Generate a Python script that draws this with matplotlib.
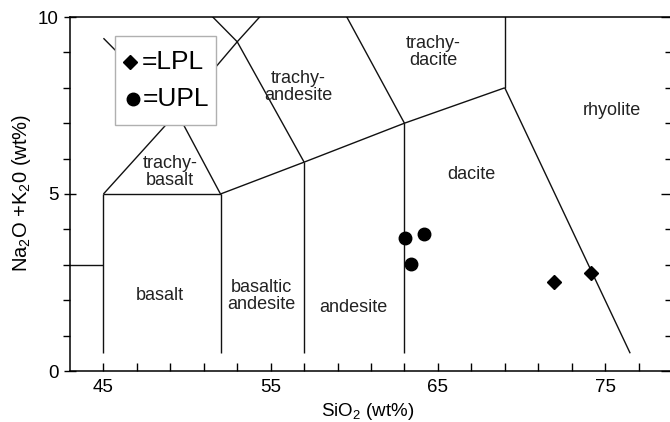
import matplotlib
matplotlib.use("Agg")
import matplotlib.pyplot as plt
import numpy as np
from matplotlib.patches import Rectangle

plt.rcParams['font.family'] = ['Liberation Sans', 'DejaVu Sans']
plt.rcParams['mathtext.fontset'] = 'custom'
plt.rcParams['mathtext.rm'] = 'Liberation Sans'
plt.rcParams['mathtext.it'] = 'Liberation Sans:italic'
plt.rcParams['mathtext.bf'] = 'Liberation Sans:bold'

# --- TAS field boundaries (SiO2, Na2O+K2O) ---
boundaries = [
    [(41, 3), (45, 3)],
    [(45, 0.5), (45, 5)],
    [(45, 5), (52, 5)],
    [(52, 0.5), (52, 5)],
    [(57, 0.5), (57, 5.9)],
    [(63, 0.5), (63, 7)],
    [(52, 5), (57, 5.9), (63, 7), (69, 8)],
    [(69, 8), (76.5, 0.5)],
    [(69, 8), (69, 12)],
    [(45, 5), (49.4, 7.3), (52, 5)],
    [(45, 9.4), (49.4, 7.3), (53, 9.3), (57.6, 11.7)],
    [(57, 5.9), (53, 9.3), (48.4, 11.5)],
    [(63, 7), (57.6, 11.7)],
]

# --- field names and label positions ---
field_names = ["trachy-\nbasalt", "trachy-\nandesite", "trachy-\ndacite", "rhyolite",
               "dacite", "basalt", "basaltic\nandesite", "andesite"]
field_x = [48.98, 56.64, 64.71, 75.42, 67.01, 48.35, 54.42, 59.96]
field_y = [5.62, 8.02, 9.01, 7.37, 5.56, 2.12, 2.12, 1.78]

# --- samples ---
lpl_sio2 = [71.95, 74.14]
lpl_alk = [2.52, 2.77]
upl_sio2 = [63.04, 64.19, 63.39]
upl_alk = [3.77, 3.88, 3.01]

legend_labels = ['=LPL', '=UPL']

xticks_major = [45, 55, 65, 75]

fig = plt.figure(figsize=(6.7, 4.22), dpi=100)
ax = fig.add_axes([70 / 670, 51 / 422, 602 / 670, 354 / 422])
ax.set_xlim(43, 79)
ax.set_ylim(0, 10)

lc = '#111111'
for seg in boundaries:
    xs, ys = zip(*seg)
    ax.plot(xs, ys, color=lc, lw=1.0, solid_capstyle='butt')

for name, x, y in zip(field_names, field_x, field_y):
    ax.text(x, y, name, ha='center', va='center', fontsize=13, color='#222222',
            linespacing=1.05, multialignment='center')

ax.plot(lpl_sio2, lpl_alk, 'D', color='black', ms=7.3, ls='none', zorder=5)
ax.plot(upl_sio2, upl_alk, 'o', color='black', ms=9, ls='none', zorder=5)


# --- legend box drawn in axes coordinates ---
def afx(px):
    return (px - 70) / 602


def afy(py):
    return (371 - py) / 354


box = Rectangle((afx(115), afy(125)), afx(216) - afx(115), afy(36) - afy(125),
                transform=ax.transAxes, facecolor='white', edgecolor='#b0b0b0',
                lw=1.0, zorder=10)
ax.add_patch(box)
ax.plot([afx(130)], [afy(62)], 'D', color='black', ms=7.3, transform=ax.transAxes, zorder=11)
ax.plot([afx(133)], [afy(99)], 'o', color='black', ms=9, transform=ax.transAxes, zorder=11)
ax.text(afx(142), afy(62), legend_labels[0], transform=ax.transAxes, fontsize=19,
        ha='left', va='center', zorder=11)
ax.text(afx(143), afy(99), legend_labels[1], transform=ax.transAxes, fontsize=19,
        ha='left', va='center', zorder=11)

for s in ax.spines.values():
    s.set_linewidth(1.1)
    s.set_color('black')

ax.set_xticks(xticks_major)
ax.set_xticks([t for t in np.arange(45, 79, 2) if t not in xticks_major], minor=True)
ax.set_yticks([0, 5, 10])
ax.set_yticks([1, 2, 3, 4, 6, 7, 8, 9], minor=True)
ax.tick_params(axis='x', which='both', direction='in', length=5.5, width=1, pad=6,
               labelsize=13.5, top=False)
ax.tick_params(axis='y', which='major', direction='inout', length=8.5, width=1, pad=4,
               labelsize=13.5)
ax.tick_params(axis='y', which='minor', direction='out', length=5, width=1)

ax2 = ax.twinx()
ax2.set_ylim(0, 10)
ax2.set_yticks([0, 5, 10])
ax2.set_yticks([1, 2, 3, 4, 6, 7, 8, 9], minor=True)
ax2.tick_params(axis='y', which='major', direction='in', length=8, width=1, labelright=False)
ax2.tick_params(axis='y', which='minor', direction='in', length=5, width=1)
for s in ax2.spines.values():
    s.set_visible(False)

fig.text(368 / 670, 1 - 411 / 422, 'SiO$_2$ (wt%)', ha='center', va='center', fontsize=13.5)
fig.text(22 / 670, 1 - 193 / 422, 'Na$_2$O +K$_2$0 (wt%)', ha='center', va='center',
         rotation=90, fontsize=14.5)

fig.savefig('out.png', dpi=100)
